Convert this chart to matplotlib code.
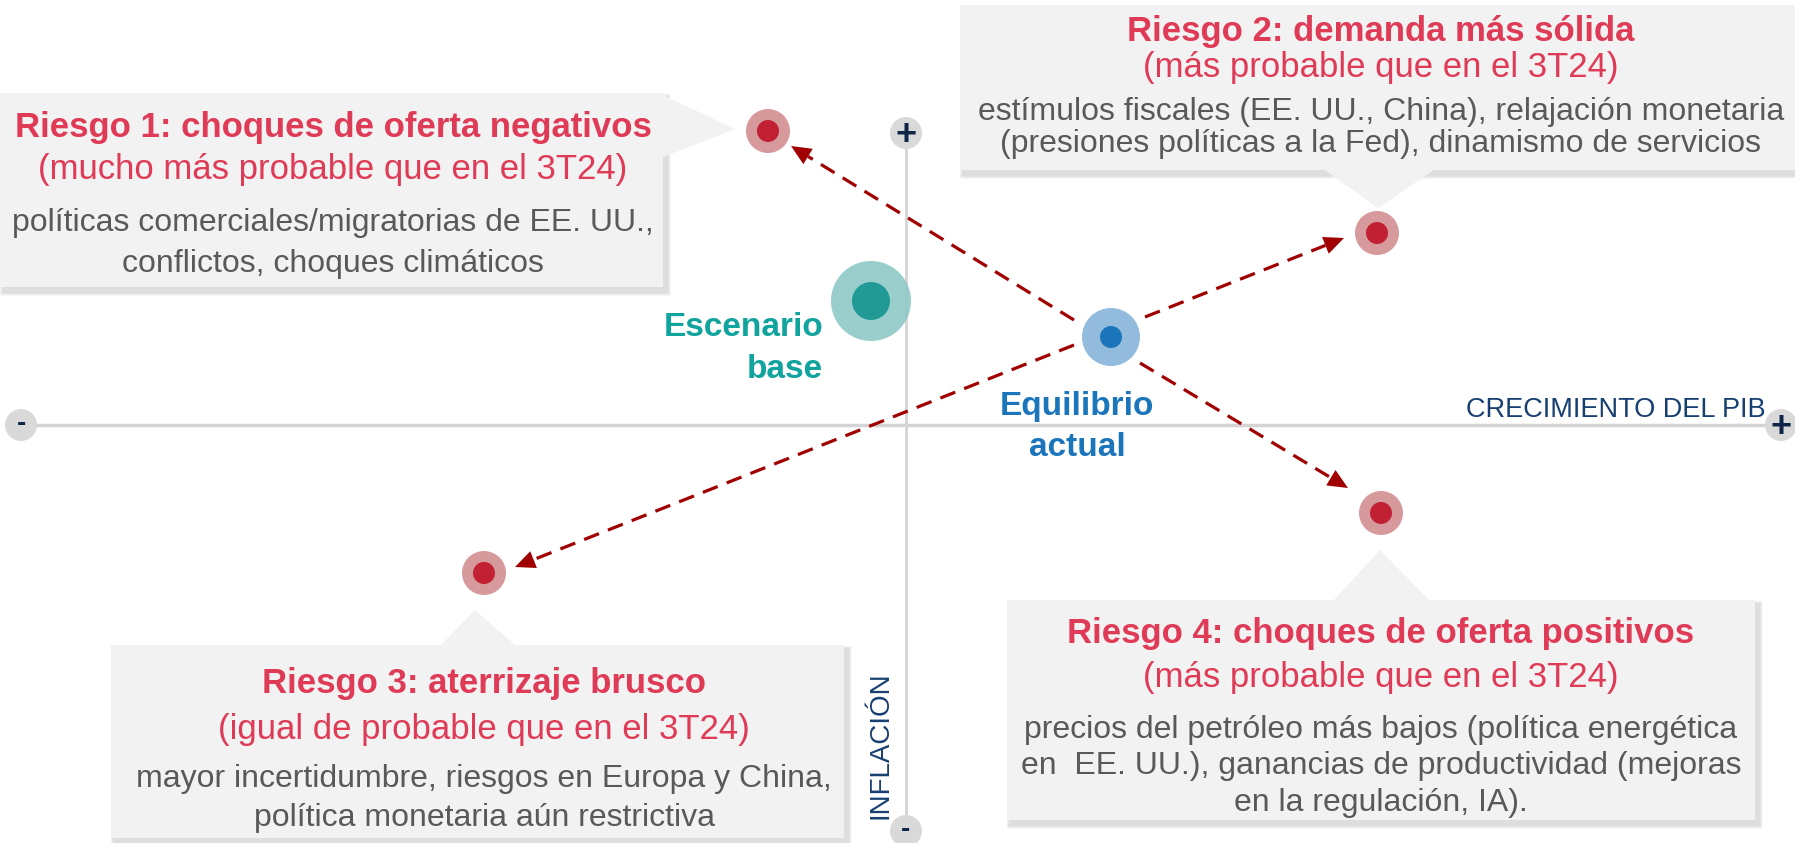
import numpy as np
import matplotlib
matplotlib.use('Agg')
import matplotlib.pyplot as plt
from matplotlib.patches import Circle, Rectangle, Polygon

plt.rcParams['font.family'] = ['Liberation Sans', 'DejaVu Sans']

# positions in pixel space of the 1795x843 picture (y grows downwards)
origin = (906, 425)
eq_pos = (1111, 337)
base_pos = (871, 301)

risk_x = [768, 1377, 484, 1381]
risk_y = [131, 233, 573, 513]

# arrow tails (near the equilibrium) and tips (near each risk)
tail_x = [1074, 1145, 1074, 1140]
tail_y = [320, 317, 345, 363]
tip_x = [791, 1344, 515, 1348]
tip_y = [146, 238, 567, 488]

titles = ['Riesgo 1: choques de oferta negativos',
          'Riesgo 2: demanda más sólida',
          'Riesgo 3: aterrizaje brusco',
          'Riesgo 4: choques de oferta positivos']
subtitles = ['(mucho más probable que en el 3T24)',
             '(más probable que en el 3T24)',
             '(igual de probable que en el 3T24)',
             '(más probable que en el 3T24)']
bodies = [['políticas comerciales/migratorias de EE. UU.,',
           'conflictos, choques climáticos'],
          ['estímulos fiscales (EE. UU., China), relajación monetaria',
           '(presiones políticas a la Fed), dinamismo de servicios'],
          ['mayor incertidumbre, riesgos en Europa y China,',
           'política monetaria aún restrictiva'],
          ['precios del petróleo más bajos (política energética',
           'en  EE. UU.), ganancias de productividad (mejoras',
           'en la regulación, IA).']]

# box rectangles (x0, y0, x1, y1) and pointer triangles
boxes = [(0, 93, 663, 287), (960, 5, 1800, 170),
         (111, 645, 844, 838), (1007, 600, 1755, 820)]
pointers = [[(663, 95), (735, 129), (663, 157)],
            [(1325, 170), (1378, 208), (1434, 170)],
            [(441, 645), (475, 610), (515, 645)],
            [(1334, 600), (1380, 550), (1429, 600)]]
text_cx = [333, 1381, 484, 1381]
title_y = [128, 31, 683, 634]
sub_y = [170, 68, 729, 677]
body_y = [[223, 264], [112, 144], [779, 818], [730, 766, 803]]

red = '#DF3A56'
grey_txt = '#595959'
navy = '#173F72'
arrow_col = '#A00000'

fig = plt.figure(figsize=(17.95, 8.43), dpi=100)
ax = fig.add_axes([0, 0, 1, 1])
ax.set_xlim(0, 1795)
ax.set_ylim(843, 0)
ax.axis('off')

# boxes with soft shadow
for (x0, y0, x1, y1), tri in zip(boxes, pointers):
    for k in range(6):
        ax.add_patch(Rectangle((x0 + 2 - k * 0.5, y0 + 3 - k * 0.5),
                               x1 - x0 + 3 + k, y1 - y0 + 3 + k,
                               facecolor='#7F7F7F', edgecolor='none',
                               alpha=0.045, zorder=1))
    ax.add_patch(Rectangle((x0, y0), x1 - x0, y1 - y0,
                           facecolor='#F2F2F2', edgecolor='none', zorder=2))
    ax.add_patch(Polygon(tri, closed=True, facecolor='#F2F2F2',
                         edgecolor='none', zorder=2))

for i in range(4):
    ax.text(text_cx[i], title_y[i], titles[i], color=red, fontsize=25,
            fontweight='bold', ha='center', va='center', zorder=5)
    ax.text(text_cx[i], sub_y[i], subtitles[i], color=red, fontsize=25,
            ha='center', va='center', zorder=5)
    for line, y in zip(bodies[i], body_y[i]):
        ax.text(text_cx[i], y, line, color=grey_txt, fontsize=23,
                ha='center', va='center', zorder=5)

# axes
ax.plot([21, 1781], [origin[1], origin[1]], color='#D4D4D4', lw=2.5, zorder=3)
ax.plot([origin[0], origin[0]], [133, 831], color='#D4D4D4', lw=2.0, zorder=3)
signs = [(21, 425, '-'), (1781, 425, '+'), (906, 133, '+'), (906, 831, '-')]
for sx, sy, s in signs:
    ax.add_patch(Circle((sx, sy), 16, facecolor='#D9D9D9', edgecolor='none', zorder=4))
    ax.text(sx, sy + (2 if s == '+' else -1), s, color='#0F2547',
            fontsize=26 if s == '+' else 20,
            fontweight='bold', ha='center', va='center', zorder=5)
ax.text(1765, 410, 'CRECIMIENTO DEL PIB', color=navy, fontsize=19.5,
        ha='right', va='center', zorder=5)
ax.text(880, 745, 'INFLACIÓN', color=navy, fontsize=20, rotation=90,
        ha='center', va='center', zorder=5)

# dashed arrows
for tx, ty, hx, hy in zip(tail_x, tail_y, tip_x, tip_y):
    d = np.array([hx - tx, hy - ty], dtype=float)
    L = np.hypot(*d)
    u = d / L
    n = np.array([-u[1], u[0]])
    head_len, head_w = 20, 9
    base = np.array([hx, hy]) - u * head_len
    ax.plot([tx, base[0]], [ty, base[1]], color=arrow_col, lw=2.3,
            dashes=(5, 3), zorder=6)
    ax.add_patch(Polygon([(hx, hy), tuple(base + n * head_w), tuple(base - n * head_w)],
                         closed=True, facecolor=arrow_col, edgecolor='none', zorder=6))

# risk dots
for x, y in zip(risk_x, risk_y):
    ax.add_patch(Circle((x, y), 22, facecolor='#D6999C', edgecolor='none', zorder=7))
    ax.add_patch(Circle((x, y), 11, facecolor='#C22033', edgecolor='none', zorder=8))

# base scenario and current equilibrium
ax.add_patch(Circle(base_pos, 40, facecolor='#8FC9C8', edgecolor='none', alpha=0.9, zorder=7))
ax.add_patch(Circle(base_pos, 19, facecolor='#219A96', edgecolor='none', zorder=8))
ax.add_patch(Circle(eq_pos, 29, facecolor='#93BBDD', edgecolor='none', zorder=7))
ax.add_patch(Circle(eq_pos, 11, facecolor='#1B75BB', edgecolor='none', zorder=8))

ax.text(823, 327, 'Escenario', color='#11A39D', fontsize=24, fontweight='bold',
        ha='right', va='center', zorder=9)
ax.text(823, 369, 'base', color='#11A39D', fontsize=24, fontweight='bold',
        ha='right', va='center', zorder=9)
ax.text(1077, 407, 'Equilibrio', color='#1B75BB', fontsize=24, fontweight='bold',
        ha='center', va='center', zorder=9)
ax.text(1077, 448, 'actual', color='#1B75BB', fontsize=24, fontweight='bold',
        ha='center', va='center', zorder=9)

fig.savefig('out.png', dpi=100)
